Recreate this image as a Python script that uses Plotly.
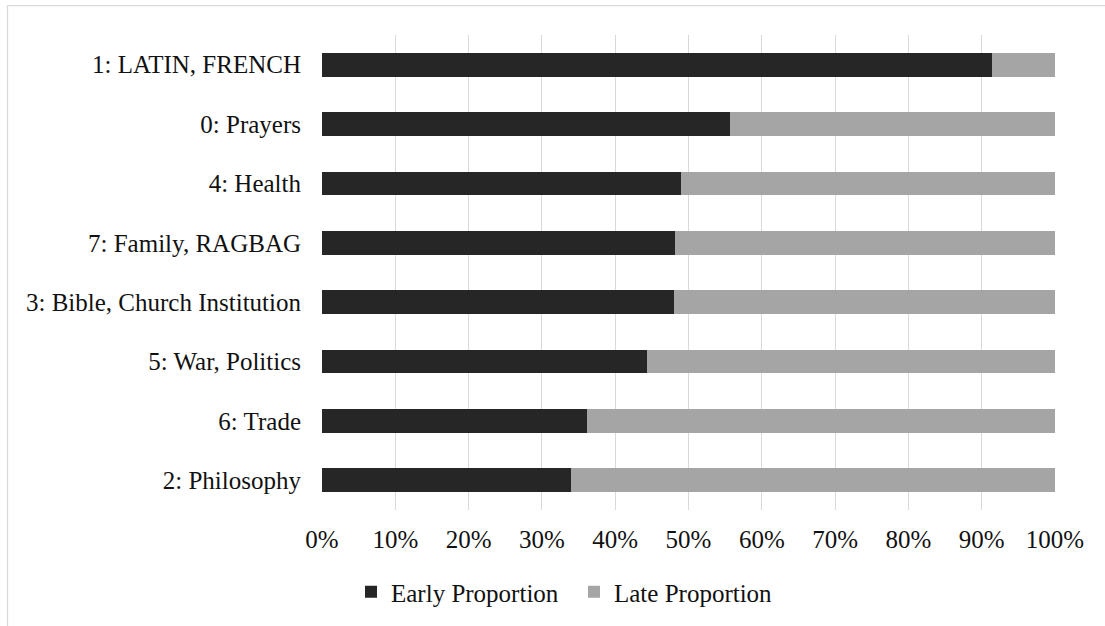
import plotly.graph_objects as go

categories = ["1: LATIN, FRENCH", "0: Prayers", "4: Health", "7: Family, RAGBAG",
              "3: Bible, Church Institution", "5: War, Politics", "6: Trade", "2: Philosophy"]
early = [0.914, 0.556, 0.490, 0.481, 0.480, 0.443, 0.361, 0.340]
late = [round(1 - e, 3) for e in early]
tick_vals = [i / 10 for i in range(11)]
tick_text = [f"{i * 10}%" for i in range(11)]

FONT = "Liberation Serif"
W, H = 1105, 626
L, R, T, B = 322, 50, 35, 116
pw, ph = W - L - R, H - T - B

def px_x(p):
    return (p - L) / pw

def px_y(p):
    return (H - B - p) / ph

fig = go.Figure()
fig.add_trace(go.Bar(y=categories, x=early, name="Early Proportion", orientation="h",
                     marker=dict(color="#262626", line=dict(width=0))))
fig.add_trace(go.Bar(y=categories, x=late, name="Late Proportion", orientation="h",
                     marker=dict(color="#a5a5a5", line=dict(width=0))))

fig.update_layout(
    width=W, height=H,
    margin=dict(l=L, r=R, t=T, b=B, autoexpand=False),
    barmode="stack", bargap=0.6,
    plot_bgcolor="white", paper_bgcolor="white",
    font=dict(family=FONT, size=25, color="#111111"),
    xaxis=dict(range=[0, 1], tickvals=tick_vals, ticktext=tick_text,
               showgrid=True, gridcolor="#d9d9d9", gridwidth=1.3,
               zeroline=False, showline=False, ticks="", ticklabelstandoff=12,
               fixedrange=True),
    yaxis=dict(categoryorder="array", categoryarray=categories, autorange="reversed",
               showgrid=False, zeroline=False, showline=False, ticks="",
               ticklabelstandoff=20, fixedrange=True),
    legend=dict(orientation="h", x=px_x(351), xanchor="left", y=px_y(592), yanchor="middle",
                font=dict(size=25), traceorder="normal", bgcolor="rgba(0,0,0,0)",
                entrywidth=178, entrywidthmode="pixels"),
    shapes=[dict(type="rect", xref="paper", yref="paper",
                 x0=px_x(7.5), x1=px_x(1200), y0=px_y(5.7), y1=px_y(700),
                 line=dict(color="#d9d9d9", width=1.3), fillcolor="rgba(0,0,0,0)", layer="below")],
)

fig.write_html("out.html")
